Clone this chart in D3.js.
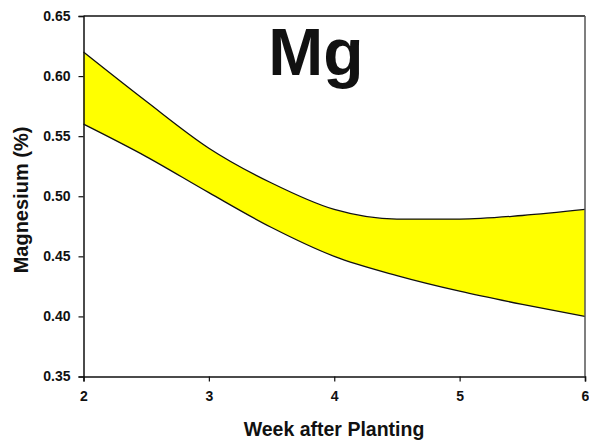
<!DOCTYPE html>
<html lang="en">
<head>
  <meta charset="UTF-8">
  <title>Mg band</title>
  <script src="https://cdn.jsdelivr.net/npm/d3@7"></script>
  <style>
    body { margin: 0; background: #fff; }
    text { font-family: "Liberation Sans", Arial, sans-serif; font-weight: bold; fill: #111; }
  </style>
</head>
<body>
<svg width="589" height="442"></svg>
<script>
// weeks after planting and the upper / lower edge of the band (Mg %)
var weeks = [2, 2.5, 3, 3.5, 4, 4.5, 5, 5.5, 6];
var upper = [0.620, 0.579, 0.540, 0.511, 0.489, 0.481, 0.481, 0.484, 0.489];
var lower = [0.560, 0.533, 0.503, 0.474, 0.450, 0.434, 0.421, 0.410, 0.400];
var xTicks = [2, 3, 4, 5, 6];
var yTicks = [0.35, 0.40, 0.45, 0.50, 0.55, 0.60, 0.65];

var svg = d3.select("svg");
var plotL = 83.5, plotR = 585, plotT = 16, plotB = 376.5;

var x = d3.scaleLinear().domain([2, 6]).range([plotL, plotR]);
var y = d3.scaleLinear().domain([0.35, 0.65]).range([plotB, plotT]);

var band = weeks.map(function(w, i) { return {w: w, hi: upper[i], lo: lower[i]}; });

svg.append("path")
    .datum(band)
    .attr("fill", "#ffff00")
    .attr("d", d3.area()
        .curve(d3.curveMonotoneX)
        .x(function(d) { return x(d.w); })
        .y0(function(d) { return y(d.lo); })
        .y1(function(d) { return y(d.hi); }));

["hi", "lo"].forEach(function(k) {
  svg.append("path")
      .datum(band)
      .attr("fill", "none")
      .attr("stroke", "#111")
      .attr("stroke-width", 1.3)
      .attr("d", d3.line()
          .curve(d3.curveMonotoneX)
          .x(function(d) { return x(d.w); })
          .y(function(d) { return y(d[k]); }));
});

// frame
svg.append("line").attr("x1", plotL).attr("x2", plotR).attr("y1", plotT).attr("y2", plotT)
    .attr("stroke", "#111").attr("stroke-width", 1.5);
svg.append("line").attr("x1", plotR).attr("x2", plotR).attr("y1", plotT).attr("y2", plotB)
    .attr("stroke", "#555").attr("stroke-width", 1.5);

var xAxis = svg.append("g")
    .attr("transform", "translate(0," + plotB + ")")
    .call(d3.axisBottom(x).tickValues(xTicks).tickFormat(d3.format("d")).tickSize(5).tickPadding(10));
var yAxis = svg.append("g")
    .attr("transform", "translate(" + plotL + ",0)")
    .call(d3.axisLeft(y).tickValues(yTicks).tickFormat(d3.format(".2f")).tickSize(5).tickPadding(8));

[xAxis, yAxis].forEach(function(g) {
  g.attr("font-size", 14).attr("font-family", null);
  g.select(".domain").attr("stroke", "#111").attr("stroke-width", 1.5);
  g.selectAll(".tick line").attr("stroke", "#111").attr("stroke-width", 1.2);
  g.selectAll(".tick text").attr("fill", "#111");
});

svg.append("text")
    .attr("x", 334).attr("y", 436)
    .attr("text-anchor", "middle")
    .attr("font-size", 19.5)
    .text("Week after Planting");

svg.append("text")
    .attr("transform", "translate(28,200) rotate(-90)")
    .attr("text-anchor", "middle")
    .attr("font-size", 20)
    .text("Magnesium (%)");

svg.append("text")
    .attr("x", 316).attr("y", 75)
    .attr("text-anchor", "middle")
    .attr("font-size", 66)
    .text("Mg");
</script>
</body>
</html>
